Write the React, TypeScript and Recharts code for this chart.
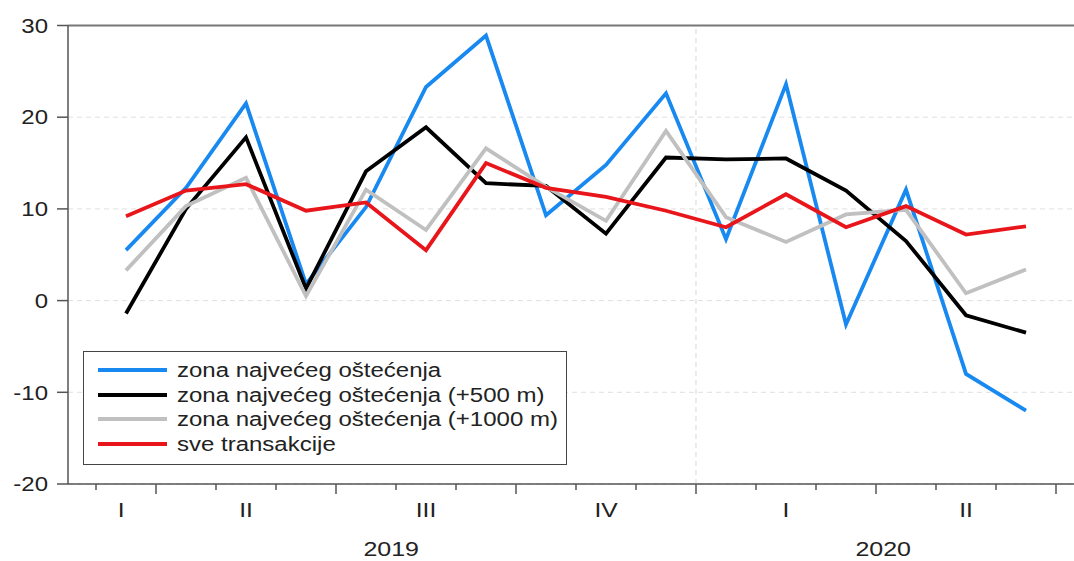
import { LineChart, Line, XAxis, YAxis, CartesianGrid, ReferenceLine, Legend } from 'recharts';

const FONT = '"Liberation Sans", Arial, sans-serif';

// monthly observations, March 2019 - June 2020
const months = [
  '2019-03', '2019-04', '2019-05', '2019-06', '2019-07', '2019-08', '2019-09', '2019-10',
  '2019-11', '2019-12', '2020-01', '2020-02', '2020-03', '2020-04', '2020-05', '2020-06',
];
const zonaMax = [5.5, 12.3, 21.5, 1.8, 10.2, 23.3, 28.9, 9.3, 14.8, 22.6, 6.7, 23.6, -2.6, 12.1, -8.0, -12.0];
const zona500 = [-1.4, 10.0, 17.8, 1.3, 14.1, 18.9, 12.8, 12.5, 7.3, 15.6, 15.4, 15.5, 12.0, 6.5, -1.6, -3.5];
const zona1000 = [3.3, 10.3, 13.4, 0.5, 12.1, 7.7, 16.6, 12.4, 8.7, 18.5, 9.1, 6.4, 9.4, 9.9, 0.8, 3.4];
const sveTrans = [9.2, 12.0, 12.7, 9.8, 10.7, 5.5, 15.0, 12.3, 11.3, 9.8, 8.0, 11.6, 8.0, 10.3, 7.2, 8.1];

const seriesNames = [
  'zona najvećeg oštećenja',
  'zona najvećeg oštećenja (+500 m)',
  'zona najvećeg oštećenja (+1000 m)',
  'sve transakcije',
];
const seriesKeys = ['zonaMax', 'zona500', 'zona1000', 'sve'];
const seriesColors = ['#1789F0', '#000000', '#C0C0C0', '#E8161B'];

// axis ticks (x in month index units)
const yTicks = [-20, -10, 0, 10, 20, 30];
const monthBoundaries = [-0.5, 0.5, 1.5, 2.5, 3.5, 4.5, 5.5, 6.5, 7.5, 8.5, 9.5, 10.5, 11.5, 12.5, 13.5, 14.5, 15.5];
const quarterBoundaries = [0.5, 3.5, 6.5, 9.5, 12.5, 15.5];
const quarterTicks = [-0.08, 2, 5, 8, 11, 14];
const quarterLabels = ['I', 'II', 'III', 'IV', 'I', 'II'];
const yearTicks = [4.42, 12.62];
const yearLabels = ['2019', '2020'];
const yearSplit = 9.5;
const xDomain = [-0.9667, 15.9667];

const rows = months.map((m, i) => ({
  i,
  month: m,
  zonaMax: zonaMax[i],
  zona500: zona500[i],
  zona1000: zona1000[i],
  sve: sveTrans[i],
}));

const YTick = (props: any) => {
  const { x, y, payload } = props;
  return (
    <g transform={`translate(${x},${y}) scale(1.2,1)`}>
      <text x={0} y={0} dy="0.36em" textAnchor="end" fontSize={20} fontFamily={FONT} fill="#222">
        {payload.value}
      </text>
    </g>
  );
};

const MonthTick = (props: any) => {
  const { x, y, payload } = props;
  const major = quarterBoundaries.includes(payload.value);
  return <line x1={x} x2={x} y1={y} y2={y + (major ? 10 : 6)} stroke="#555" strokeWidth={1.5} />;
};

const QuarterTick = (props: any) => {
  const { x, y, index } = props;
  return (
    <g transform={`translate(${x},${y + 23}) scale(1.2,1)`}>
      <text x={0} y={0} textAnchor="middle" fontSize={20.5} fontFamily={FONT} fill="#222">
        {quarterLabels[index]}
      </text>
    </g>
  );
};

const YearTick = (props: any) => {
  const { x, y, index } = props;
  return (
    <g transform={`translate(${x},${y + 21.5}) scale(1.22,1)`}>
      <text x={0} y={0} textAnchor="middle" fontSize={20.5} fontFamily={FONT} fill="#222">
        {yearLabels[index]}
      </text>
    </g>
  );
};

const LegendBox = () => (
  <div
    style={{
      width: 484,
      height: 114,
      boxSizing: 'border-box',
      border: '1.5px solid #444',
      background: '#fff',
      paddingTop: 6,
    }}
  >
    {seriesNames.map((name, k) => (
      <div key={name} style={{ display: 'flex', alignItems: 'center', height: 24.6 }}>
        <div style={{ marginLeft: 14, width: 69, height: 4, background: seriesColors[k] }} />
        <div
          style={{
            marginLeft: 10,
            fontFamily: FONT,
            fontSize: 20,
            color: '#222',
            whiteSpace: 'nowrap',
            transform: 'scaleX(1.2)',
            transformOrigin: 'left center',
            lineHeight: '24px',
          }}
        >
          {name}
        </div>
      </div>
    ))}
  </div>
);

export default function App() {
  return (
    <div
      style={{
        position: 'absolute',
        left: 0,
        top: 0,
        width: 1074,
        height: 561,
        overflow: 'hidden',
        background: '#fff',
      }}
    >
      <LineChart width={1100} height={561} data={rows} margin={{ top: 25.5, right: 16, bottom: 0, left: 0 }}>
        <CartesianGrid xAxisId="m" vertical={false} stroke="#e0e0e0" strokeDasharray="5 4" />
        <XAxis
          xAxisId="m"
          dataKey="i"
          type="number"
          domain={xDomain}
          allowDataOverflow
          ticks={monthBoundaries}
          interval={0}
          height={10}
          tickSize={0}
          tickMargin={0}
          tickLine={false}
          axisLine={{ stroke: '#555', strokeWidth: 1.5 }}
          tick={<MonthTick />}
        />
        <XAxis
          xAxisId="q"
          dataKey="i"
          type="number"
          domain={xDomain}
          allowDataOverflow
          ticks={quarterTicks}
          interval={0}
          height={40}
          tickSize={0}
          tickMargin={0}
          tickLine={false}
          axisLine={false}
          tick={<QuarterTick />}
        />
        <XAxis
          xAxisId="y"
          dataKey="i"
          type="number"
          domain={xDomain}
          allowDataOverflow
          ticks={yearTicks}
          interval={0}
          height={27}
          tickSize={0}
          tickMargin={0}
          tickLine={false}
          axisLine={false}
          tick={<YearTick />}
        />
        <YAxis
          domain={[-20, 30]}
          ticks={yTicks}
          interval={0}
          allowDataOverflow
          width={68}
          tickSize={11}
          tickMargin={9}
          axisLine={{ stroke: '#555', strokeWidth: 1.5 }}
          tickLine={{ stroke: '#555', strokeWidth: 1.5 }}
          tick={<YTick />}
        />
        <ReferenceLine xAxisId="m" x={yearSplit} stroke="#d6d6d6" strokeDasharray="5 4" />
        <ReferenceLine xAxisId="m" y={30} stroke="#777" strokeWidth={2} />
        {seriesKeys.map((key, k) => (
          <Line
            key={key}
            xAxisId="m"
            type="linear"
            dataKey={key}
            name={seriesNames[k]}
            stroke={seriesColors[k]}
            strokeWidth={3.8}
            dot={false}
            activeDot={false}
            isAnimationActive={false}
          />
        ))}
        <Legend
          layout="vertical"
          align="center"
          verticalAlign="middle"
          wrapperStyle={{ left: 83, top: 351, width: 484 }}
          content={<LegendBox />}
        />
      </LineChart>
    </div>
  );
}
